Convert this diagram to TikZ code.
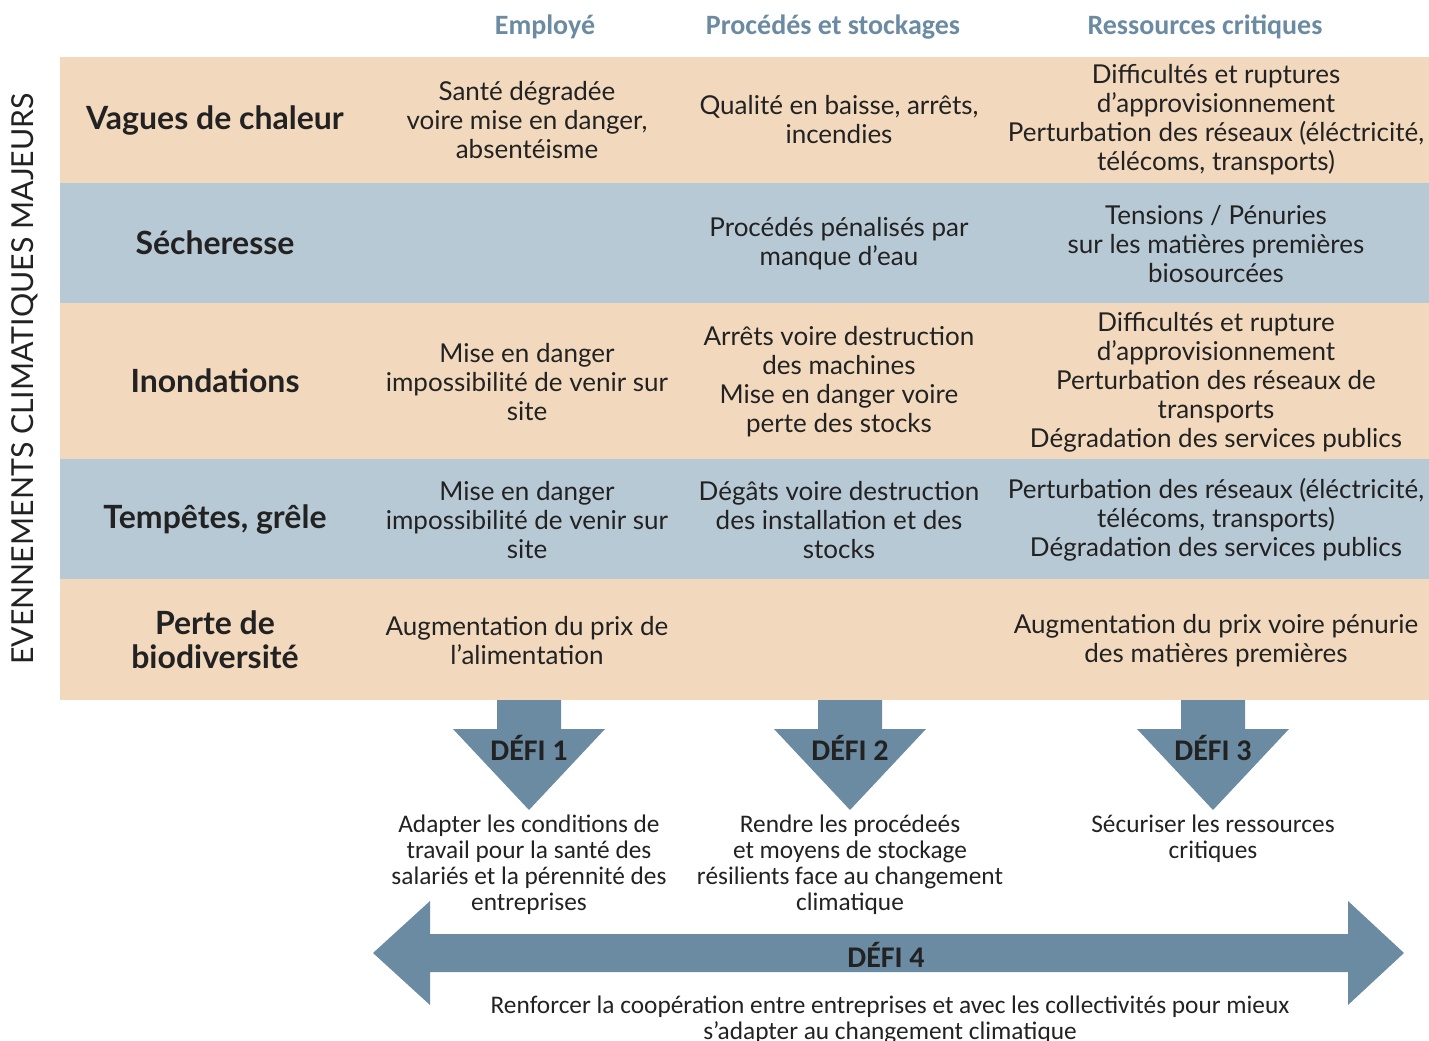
\documentclass[tikz,border=0pt]{standalone}
\usepackage{fontspec}
\setmainfont{Lato}
\newfontfamily\cond{Carlito}
\definecolor{peach}{HTML}{F2D9BE}
\definecolor{bluerow}{HTML}{B8C9D6}
\definecolor{arrowblue}{HTML}{6B8BA3}
\definecolor{hdr}{HTML}{6B8BA3}
\definecolor{txt}{HTML}{222222}
\begin{document}
\begin{tikzpicture}[x=0.75pt,y=-0.75pt,
  rowlabel/.style={font=\fontsize{24}{25.5}\selectfont\bfseries, text=txt, align=center},
  cell/.style={font=\fontsize{19.5}{21.75}\selectfont, text=txt, align=center},
  header/.style={font=\cond\fontsize{21}{22}\selectfont\bfseries, text=hdr},
  defilabel/.style={font=\cond\fontsize{22.5}{24}\selectfont\bfseries, text=txt},
  defitext/.style={font=\cond\fontsize{19}{19.5}\selectfont, text=txt, align=center},
  arrowfill/.style={fill=arrowblue, draw=none}]
\useasboundingbox (0,0) rectangle (1429,1041);
% rows
\fill[peach] (60,57) rectangle (1429,183);
\fill[bluerow] (60,183) rectangle (1429,303);
\fill[peach] (60,303) rectangle (1429,459);
\fill[bluerow] (60,459) rectangle (1429,579);
\fill[peach] (60,579) rectangle (1429,700);
% headers
\node[header] (h1) at (545,27) {Employé};
\node[header] (h2) at (833,27) {Procédés et stockages};
\node[header] (h3) at (1205,27) {Ressources critiques};
% vertical label
\node[rotate=90, font=\fontsize{22.7}{24}\selectfont, text=txt] (vert) at (25,379) {EVENNEMENTS CLIMATIQUES MAJEURS};
% row labels
\node[rowlabel] (r1) at (215,121) {Vagues de chaleur};
\node[rowlabel] (r2) at (215,243) {Sécheresse};
\node[rowlabel] (r3) at (215,381) {Inondations};
\node[rowlabel] (r4) at (215,519) {Tempêtes, grêle};
\node[rowlabel] (r5) at (215,640) {Perte de\\biodiversité};
% cells row 1
\node[cell] (c11) at (527,120) {Santé dégradée\\voire mise en danger,\\absentéisme};
\node[cell] (c12) at (839,120) {Qualité en baisse, arrêts,\\incendies};
\node[cell] (c13) at (1216,120) {Difficultés et ruptures\\d’approvisionnement\\Perturbation des réseaux (éléctricité,\\télécoms, transports)};
% row 2
\node[cell] (c22) at (839,244) {Procédés pénalisés par\\manque d’eau};
\node[cell] (c23) at (1216,244) {Tensions / Pénuries\\sur les matières premières\\biosourcées};
% row 3
\node[cell] (c31) at (527,382) {Mise en danger\\impossibilité de venir sur\\site};
\node[cell] (c32) at (839,382) {Arrêts voire destruction\\des machines\\Mise en danger voire\\perte des stocks};
\node[cell] (c33) at (1216,382) {Difficultés et rupture\\d’approvisionnement\\Perturbation des réseaux de\\transports\\Dégradation des services publics};
% row 4
\node[cell] (c41) at (527,520) {Mise en danger\\impossibilité de venir sur\\site};
\node[cell] (c42) at (839,520) {Dégâts voire destruction\\des installation et des\\stocks};
\node[cell] (c43) at (1216,520) {Perturbation des réseaux (éléctricité,\\télécoms, transports)\\Dégradation des services publics};
% row 5
\node[cell] (c51) at (527,641) {Augmentation du prix de\\l’alimentation};
\node[cell] (c53) at (1216,641) {Augmentation du prix voire pénurie\\des matières premières};
% down arrows
\foreach \cx/\n in {529/1,850/2,1213/3}{
  \fill[arrowfill] (\cx-32,700) -- (\cx+32,700) -- (\cx+32,729) -- (\cx+76,729) -- (\cx,810) -- (\cx-76,729) -- (\cx-32,729) -- cycle;
  \node[defilabel] (d\n) at (\cx,748) {DÉFI \n};
}
\node[defitext, anchor=north] (t1) at (529,810) {Adapter les conditions de\\travail pour la santé des\\salariés et la pérennité des\\entreprises};
\node[defitext, anchor=north] (t2) at (850,810) {Rendre les procédeés\\et moyens de stockage\\résilients face au changement\\climatique};
\node[defitext, anchor=north] (t3) at (1213,810) {Sécuriser les ressources\\critiques};
% double arrow
\fill[arrowfill] (373,953) -- (430,901) -- (430,934) -- (1348,934) -- (1348,901) -- (1404,953) -- (1348,1005) -- (1348,972) -- (430,972) -- (430,1005) -- cycle;
\node[defilabel] (d4) at (886,955) {DÉFI 4};
\node[defitext, anchor=north] (t4) at (890,991) {Renforcer la coopération entre entreprises et avec les collectivités pour mieux\\s’adapter au changement climatique};
\end{tikzpicture}
\end{document}
